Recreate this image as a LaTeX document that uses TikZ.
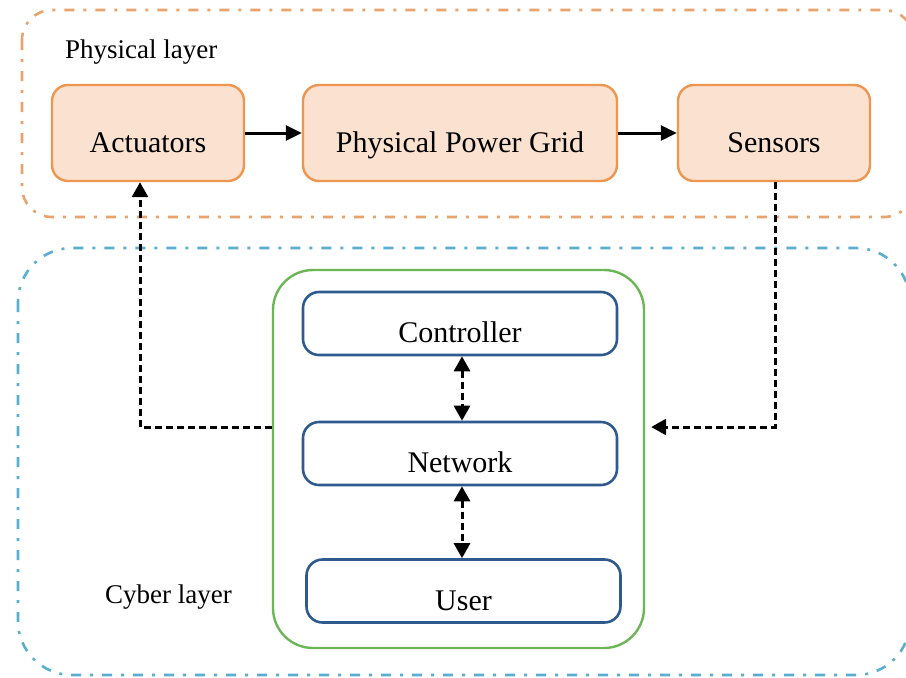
\documentclass[tikz,border=0pt]{standalone}
\usepackage{fontspec}
\setmainfont{Liberation Serif}
\usetikzlibrary{arrows.meta}
\definecolor{peach}{HTML}{FBE2D0}
\definecolor{boxorange}{HTML}{EE9650}
\definecolor{layerorange}{HTML}{E8A46C}
\definecolor{layerblue}{HTML}{5AAFD0}
\definecolor{cybergreen}{HTML}{6DB657}
\definecolor{boxblue}{HTML}{2F5A8E}

\begin{document}
\begin{tikzpicture}[x=0.5pt,y=-0.5pt,
    label/.style={font=\fontsize{15}{18}\selectfont, text height=19pt, text depth=0pt},
    layertext/.style={font=\fontsize{13.5}{16}\selectfont, anchor=west},
    phybox/.style={label, draw=boxorange, fill=peach, line width=1.2pt, rounded corners=8pt, minimum height=48pt},
    cybbox/.style={label, draw=boxblue, fill=white, line width=1.3pt, rounded corners=8pt, minimum width=157pt, minimum height=31.5pt},
    layer/.style={line width=1.3pt, rounded corners=15pt, dash pattern=on 5pt off 4.5pt on 1.5pt off 4.5pt},
    flow/.style={line width=1.5pt, -{Triangle[width=7.5pt,length=8pt]}},
    dasharrow/.style={line width=1.5pt, dash pattern=on 3.5pt off 2pt, -{Triangle[width=8pt,length=7.5pt]}},
    twoway/.style={dasharrow, {Triangle[width=8pt,length=7.5pt]}-{Triangle[width=8pt,length=7.5pt]}}]
    \clip (0,0) rectangle (906,677);
    \fill[white] (0,0) rectangle (906,677);
    %the two layers
    \draw[layer, layerorange] (22,10) rectangle (914,217);
    \draw[layer, layerblue, rounded corners=27pt] (18,248) rectangle (910,675);
    \node[layertext] (phylabel) at (58,52) {Physical layer};
    \node[layertext] (cyblabel) at (98,597) {Cyber layer};
    %physical layer
    \node[phybox, minimum width=96pt] (act) at (148,133) {Actuators};
    \node[phybox, minimum width=157pt] (grid) at (460,133) {Physical Power Grid};
    \node[phybox, minimum width=96pt] (sens) at (774,133) {Sensors};
    \draw[flow] (act) -- (grid);
    \draw[flow] (grid) -- (sens);
    %cyber layer
    \node[draw=cybergreen, line width=1.2pt, rounded corners=20pt, minimum width=185.5pt, minimum height=189pt] (cyber) at (458.5,459) {};
    \node[cybbox] (ctrl) at (460,323.5) {Controller};
    \node[cybbox] (net) at (460,453.5) {Network};
    \node[cybbox] (user) at (463.5,591) {User};
    \draw[twoway] ([xshift=1pt]ctrl.south) -- ([xshift=1pt]net.north);
    \draw[twoway] ([xshift=1pt]net.south) -- ([xshift=-0.75pt]user.north);
    %feedback loop
    \coordinate (lbend) at (140,427);
    \coordinate (rbend) at (775,427);
    \draw[dasharrow] (cyber.west |- lbend) -- (lbend) -- (lbend |- act.south);
    \draw[dasharrow] (rbend |- sens.south) -- (rbend) -- ([xshift=3pt]cyber.east |- rbend);
\end{tikzpicture}
\end{document}
